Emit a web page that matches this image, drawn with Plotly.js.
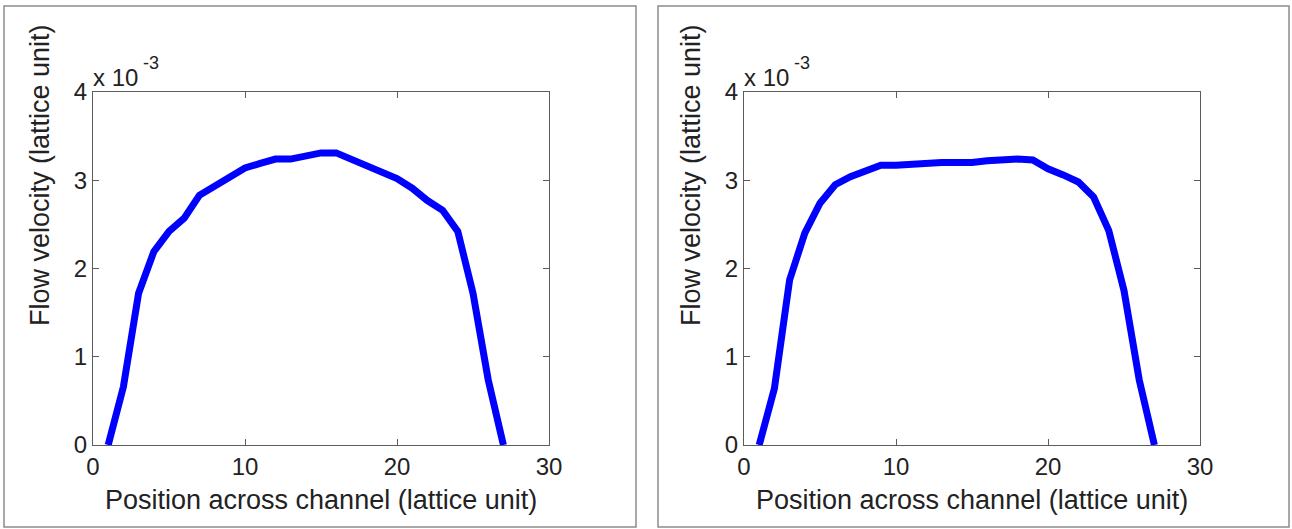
<!DOCTYPE html>
<html>
<head>
<meta charset="utf-8">
<script src="https://cdn.plot.ly/plotly-3.0.1.min.js"></script>
<style>
  html, body { margin: 0; padding: 0; background: #ffffff; }
  #chart { width: 1292px; height: 529px; }
</style>
</head>
<body>
<div id="chart"></div>
<script>
// Lattice node positions across the channel
const positionLeft = [1, 2, 3, 4, 5, 6, 7, 8, 9, 10, 11, 12, 13, 14, 15, 16, 17, 18, 19, 20, 21, 22, 23, 24, 25, 26, 27];
const positionRight = [1, 2, 3, 4, 5, 6, 7, 8, 9, 10, 11, 12, 13, 14, 15, 16, 17, 18, 19, 20, 21, 22, 23, 24, 25, 26, 27];

// Flow velocity profiles, in units of 1e-3 (lattice units)
const velocityLeft = [0.00, 0.66, 1.72, 2.19, 2.42, 2.57, 2.83, 2.93, 3.04, 3.14, 3.19, 3.24, 3.24, 3.27, 3.31, 3.31, 3.24, 3.17, 3.10, 3.02, 2.91, 2.77, 2.66, 2.42, 1.72, 0.74, 0.00];
const velocityRight = [0.00, 0.64, 1.87, 2.40, 2.74, 2.95, 3.04, 3.11, 3.17, 3.17, 3.18, 3.20, 3.20, 3.20, 3.20, 3.22, 3.23, 3.24, 3.23, 3.13, 3.06, 2.98, 2.81, 2.43, 1.75, 0.74, 0.00];

// Axis ticks and labels
const xTickValues = [0, 10, 20, 30];
const yTickValues = [0, 1, 2, 3, 4];
const xAxisTitle = 'Position across channel (lattice unit)';
const yAxisTitle = 'Flow velocity (lattice unit)';
const multiplierBase = 'x 10';
const multiplierExp = '-3';

const W = 1292, H = 529;
const fx = px => px / W;          // pixel column -> paper x
const fy = py => 1 - py / H;      // pixel row -> paper y

const FONT = 'Liberation Sans, Arial, Helvetica, sans-serif';
const TEXT = '#222222';
const AXIS = '#5c5c5c';

const axisBase = {
  showline: true, linecolor: AXIS, linewidth: 1, mirror: 'ticks',
  ticks: 'inside', ticklen: 6, tickwidth: 1, tickcolor: AXIS,
  showgrid: false, zeroline: false, fixedrange: true,
  tickmode: 'array',
  tickfont: { family: FONT, size: 24, color: TEXT }
};

const lineStyle = { color: '#0000ff', width: 7, shape: 'linear' };

const traces = [
  { x: positionLeft, y: velocityLeft, xaxis: 'x', yaxis: 'y', type: 'scatter', mode: 'lines', line: lineStyle, hoverinfo: 'skip' },
  { x: positionRight, y: velocityRight, xaxis: 'x2', yaxis: 'y2', type: 'scatter', mode: 'lines', line: lineStyle, hoverinfo: 'skip' }
];

const yDomain = [fy(445), fy(92)];

// Per-panel text: axis titles and the exponent multiplier
function panelText(plotLeft, plotRight, yTitleX) {
  const cx = (plotLeft + plotRight) / 2;
  return [
    { text: xAxisTitle, x: fx(cx), y: fy(500), xanchor: 'center', yanchor: 'middle',
      font: { family: FONT, size: 27, color: TEXT } },
    { text: yAxisTitle, x: fx(yTitleX), y: fy(175), xanchor: 'center', yanchor: 'middle', textangle: -90,
      font: { family: FONT, size: 27, color: TEXT } },
    { text: multiplierBase, x: fx(plotLeft - 1), y: fy(78), xanchor: 'left', yanchor: 'middle',
      font: { family: FONT, size: 24, color: TEXT } },
    { text: multiplierExp, x: fx(plotLeft + 49), y: fy(63), xanchor: 'left', yanchor: 'middle',
      font: { family: FONT, size: 18, color: TEXT } }
  ].map(a => Object.assign({ xref: 'paper', yref: 'paper', showarrow: false, borderpad: 0 }, a));
}

const layout = {
  width: W, height: H,
  margin: { l: 0, r: 0, t: 0, b: 0, pad: 0 },
  paper_bgcolor: '#ffffff', plot_bgcolor: '#ffffff',
  showlegend: false,
  xaxis: Object.assign({}, axisBase, { domain: [fx(93), fx(549)], range: [0, 30], tickvals: xTickValues, anchor: 'y' }),
  yaxis: Object.assign({}, axisBase, { domain: yDomain, range: [0, 4], tickvals: yTickValues, anchor: 'x' }),
  xaxis2: Object.assign({}, axisBase, { domain: [fx(744), fx(1200)], range: [0, 30], tickvals: xTickValues, anchor: 'y2' }),
  yaxis2: Object.assign({}, axisBase, { domain: yDomain, range: [0, 4], tickvals: yTickValues, anchor: 'x2' }),
  annotations: panelText(93, 549, 40).concat(panelText(744, 1200, 691)),
  shapes: [
    { type: 'rect', xref: 'paper', yref: 'paper', x0: fx(4), x1: fx(636), y0: fy(527), y1: fy(6),
      line: { color: '#8c8c8c', width: 1.5 }, fillcolor: 'rgba(0,0,0,0)', layer: 'below' },
    { type: 'rect', xref: 'paper', yref: 'paper', x0: fx(658), x1: fx(1289), y0: fy(527), y1: fy(6),
      line: { color: '#8c8c8c', width: 1.5 }, fillcolor: 'rgba(0,0,0,0)', layer: 'below' }
  ]
};

Plotly.newPlot('chart', traces, layout, { displayModeBar: false, staticPlot: true });
</script>
</body>
</html>
